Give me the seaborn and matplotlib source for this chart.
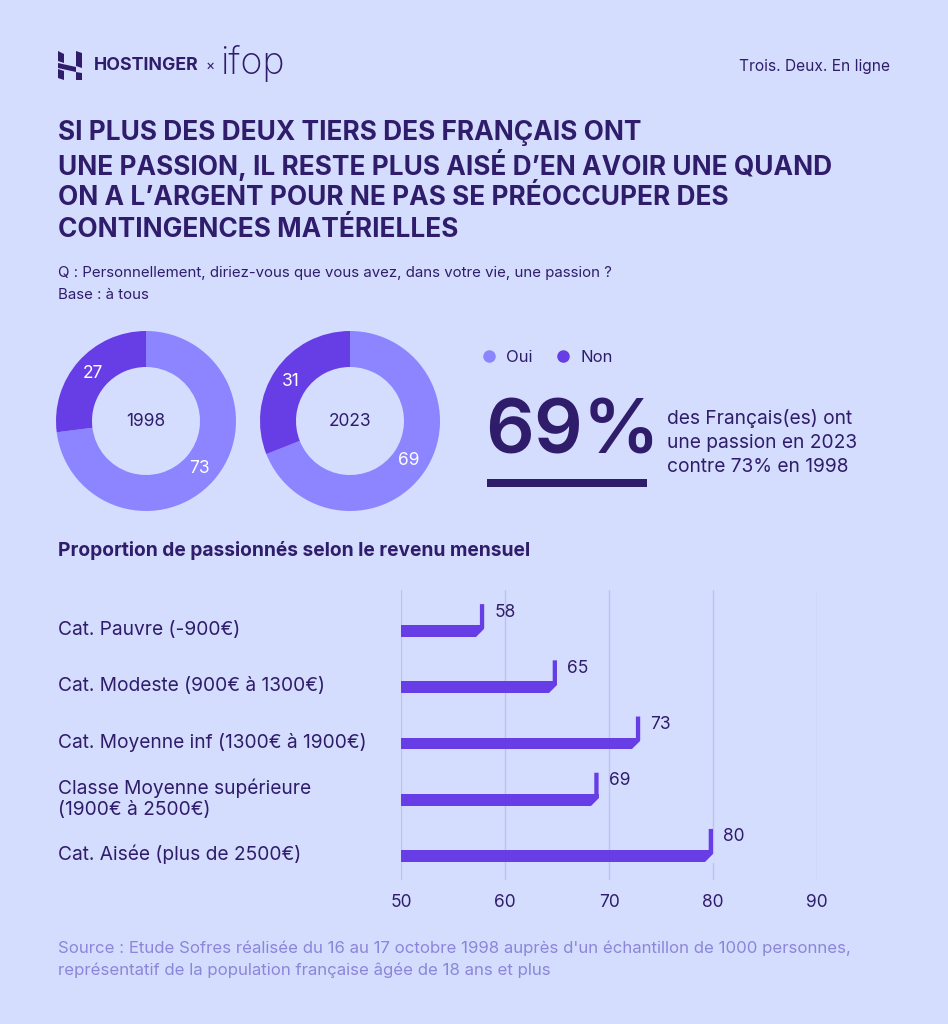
import matplotlib
matplotlib.use("Agg")
import matplotlib.pyplot as plt
from matplotlib.patches import Polygon, Rectangle
from matplotlib.lines import Line2D
import matplotlib.transforms as mtransforms
import seaborn as sns
import pandas as pd

# ---------------- data ----------------
donut_years = ["1998", "2023"]
donut_oui = [73, 69]
donut_non = [27, 31]
legend_labels = ["Oui", "Non"]

categories = [
    "Cat. Pauvre (-900€)",
    "Cat. Modeste (900€ à 1300€)",
    "Cat. Moyenne inf (1300€ à 1900€)",
    "Classe Moyenne supérieure\n(1900€ à 2500€)",
    "Cat. Aisée (plus de 2500€)",
]
values = [58, 65, 73, 69, 80]
xticks = [50, 60, 70, 80, 90]

headline = "69%"

# ---------------- style ----------------
BG = "#D5DDFE"
DARK = "#2F1C6A"
LIGHT = "#8C85FF"
PURPLE = "#673DE6"
GRID = "#BBC0F8"
MUTED = "#8B86D9"

sns.set_theme(style="white")
plt.rcParams["font.family"] = ["Inter", "DejaVu Sans"]
plt.rcParams["text.color"] = DARK

W, H = 948, 1024
fig = plt.figure(figsize=(W / 100, H / 100), dpi=100, facecolor=BG)


def fx(px):
    return px / W


def fy(py):
    return 1 - py / H


def px_axes(x0, y0, x1, y1, **kw):
    return fig.add_axes([fx(x0), fy(y1), (x1 - x0) / W, (y1 - y0) / H], **kw)


# overlay axes in pixel coordinates for header decoration
deco = fig.add_axes([0, 0, 1, 1], zorder=-1)
deco.set_xlim(0, W)
deco.set_ylim(H, 0)
deco.axis("off")

# logo (H icon)
logo_polys = [
    [(58, 51), (64, 54), (64, 63), (58, 61)],
    [(76, 51), (82, 53), (82, 68), (76, 66)],
    [(58, 63), (76, 67), (76, 72), (58, 68)],
    [(58, 69), (64, 71), (64, 80), (58, 78)],
    [(76, 72), (82, 73), (82, 80), (76, 80)],
]
for poly in logo_polys:
    deco.add_patch(Polygon(poly, closed=True, color=DARK, lw=0))
fig.text(fx(94), fy(66), "HOSTINGER", fontsize=12.8, fontweight="bold",
         color=DARK, va="center", ha="left")
fig.text(fx(206), fy(66), "×", fontsize=10, color=DARK, va="center", ha="left")
fig.text(fx(220), fy(64), "ifop", fontsize=27, fontweight="light",
         color=DARK, va="center", ha="left")
fig.text(fx(890), fy(66), "Trois. Deux. En ligne", fontsize=11.2,
         color=DARK, va="center", ha="right")

# title
title_lines = [
    "SI PLUS DES DEUX TIERS DES FRANÇAIS ONT",
    "UNE PASSION, IL RESTE PLUS AISÉ D’EN AVOIR UNE QUAND",
    "ON A L’ARGENT POUR NE PAS SE PRÉOCCUPER DES",
    "CONTINGENCES MATÉRIELLES",
]
for i, line in enumerate(title_lines):
    fig.text(fx(58), fy(133 + i * 32.3), line, fontsize=18.9, fontweight="bold",
             color=DARK, va="center", ha="left")

fig.text(fx(58), fy(273), "Q : Personnellement, diriez-vous que vous avez, dans votre vie, une passion ?",
         fontsize=10.8, color=DARK, va="center", ha="left")
fig.text(fx(58), fy(295), "Base : à tous", fontsize=10.8, color=DARK,
         va="center", ha="left")

# ---------------- donuts ----------------
centers = [(146, 421), (350, 421)]
R = 90
for (cx, cy), year, oui, non in zip(centers, donut_years, donut_oui, donut_non):
    ax = px_axes(cx - R, cy - R, cx + R, cy + R)
    ax.pie([oui, non], colors=[LIGHT, PURPLE], startangle=90, counterclock=False,
           radius=1, wedgeprops=dict(width=0.4, linewidth=0),
           autopct=lambda p: f"{round(p)}", pctdistance=0.79,
           textprops=dict(color="white", fontsize=12.5))
    ax.set_xlim(-1, 1)
    ax.set_ylim(-1, 1)
    ax.set_aspect("equal")
    ax.axis("off")
    ax.text(0, 0, year, ha="center", va="center", fontsize=12.5, color=DARK)

# legend
handles = [Line2D([], [], marker="o", ls="", markersize=8, color=c)
           for c in (LIGHT, PURPLE)]
fig.legend(handles, legend_labels, loc="center left",
           bbox_to_anchor=(fx(457), fy(357)), ncol=2, frameon=False,
           fontsize=12, handletextpad=0.05, columnspacing=0.8, labelcolor=DARK)

# headline
fig.text(fx(485), fy(434), headline, fontsize=55, fontweight="semibold",
         color=DARK, va="center", ha="left")
deco.add_patch(Rectangle((487, 479), 160, 8, color=DARK, lw=0))
for i, line in enumerate(["des Français(es) ont", "une passion en 2023",
                          "contre 73% en 1998"]):
    fig.text(fx(667), fy(419 + i * 24), line, fontsize=13.8, color=DARK,
             va="center", ha="left")

fig.text(fx(58), fy(551), "Proportion de passionnés selon le revenu mensuel",
         fontsize=13.8, fontweight="bold", color=DARK, va="center", ha="left")

# ---------------- bar chart ----------------
AX_L, AX_R, AX_T, AX_B = 401, 817, 590, 880
axb = px_axes(AX_L, AX_T, AX_R, AX_B)
axb.set_facecolor("none")
df = pd.DataFrame({"cat": categories, "val": values})
bar_h = 0.21
sns.barplot(data=df, x="val", y="cat", orient="h", color=PURPLE,
            saturation=1, width=bar_h, ax=axb, zorder=2, linewidth=0,
            edgecolor=PURPLE)
xmin, xmax = 50, 90
axb.set_xlim(xmin, xmax)
y_top, y_bot = -0.73, 4.43
axb.set_ylim(y_bot, y_top)
ux = (xmax - xmin) / (AX_R - AX_L)      # data units per px (x)
uy = (y_bot - y_top) / (AX_B - AX_T)    # data units per px (y)

axb.set_xticks(xticks)
axb.set_xticklabels([str(t) for t in xticks])
axb.tick_params(axis="x", length=0, pad=10, labelsize=12.5, labelcolor=DARK)
axb.set_yticks([])
axb.set_xlabel("")
axb.set_ylabel("")
for s in axb.spines.values():
    s.set_visible(False)
for t in xticks:
    axb.axvline(t, color=GRID, lw=1, zorder=1)

for i, v in enumerate(values):
    bot = i + bar_h / 2
    top = i - bar_h / 2
    bev = 9
    # bevelled lower-right corner
    axb.add_patch(Polygon([(v - bev * ux, bot + uy), (v + ux, bot + uy),
                           (v + ux, bot - bev * uy)], closed=True,
                          color=BG, lw=0, zorder=3))
    # vertical end stub
    axb.add_patch(Polygon([(v - 4.3 * ux, top - 21 * uy), (v, top - 21 * uy),
                           (v, bot - bev * uy), (v - 4.3 * ux, bot - (bev - 4.3) * uy),
                           (v - 4.3 * ux, top)], closed=True,
                          color=PURPLE, lw=0, zorder=4))
    axb.text(v + 10 * ux, top - 13 * uy, f"{v}", ha="left", va="center",
             fontsize=12.5, color=DARK)

blend = mtransforms.blended_transform_factory(fig.transFigure, axb.transData)
for i, c in enumerate(categories):
    axb.text(fx(58), i - 0.02, c, transform=blend, ha="left", va="center",
             fontsize=13.8, color=DARK, linespacing=1.2, clip_on=False)

# footer
fig.text(fx(58), fy(948), "Source : Etude Sofres réalisée du 16 au 17 octobre 1998 auprès d'un échantillon de 1000 personnes,",
         fontsize=12.1, color=MUTED, va="center", ha="left")
fig.text(fx(58), fy(970), "représentatif de la population française âgée de 18 ans et plus",
         fontsize=12.1, color=MUTED, va="center", ha="left")

fig.savefig("out.png", dpi=100, facecolor=BG)
